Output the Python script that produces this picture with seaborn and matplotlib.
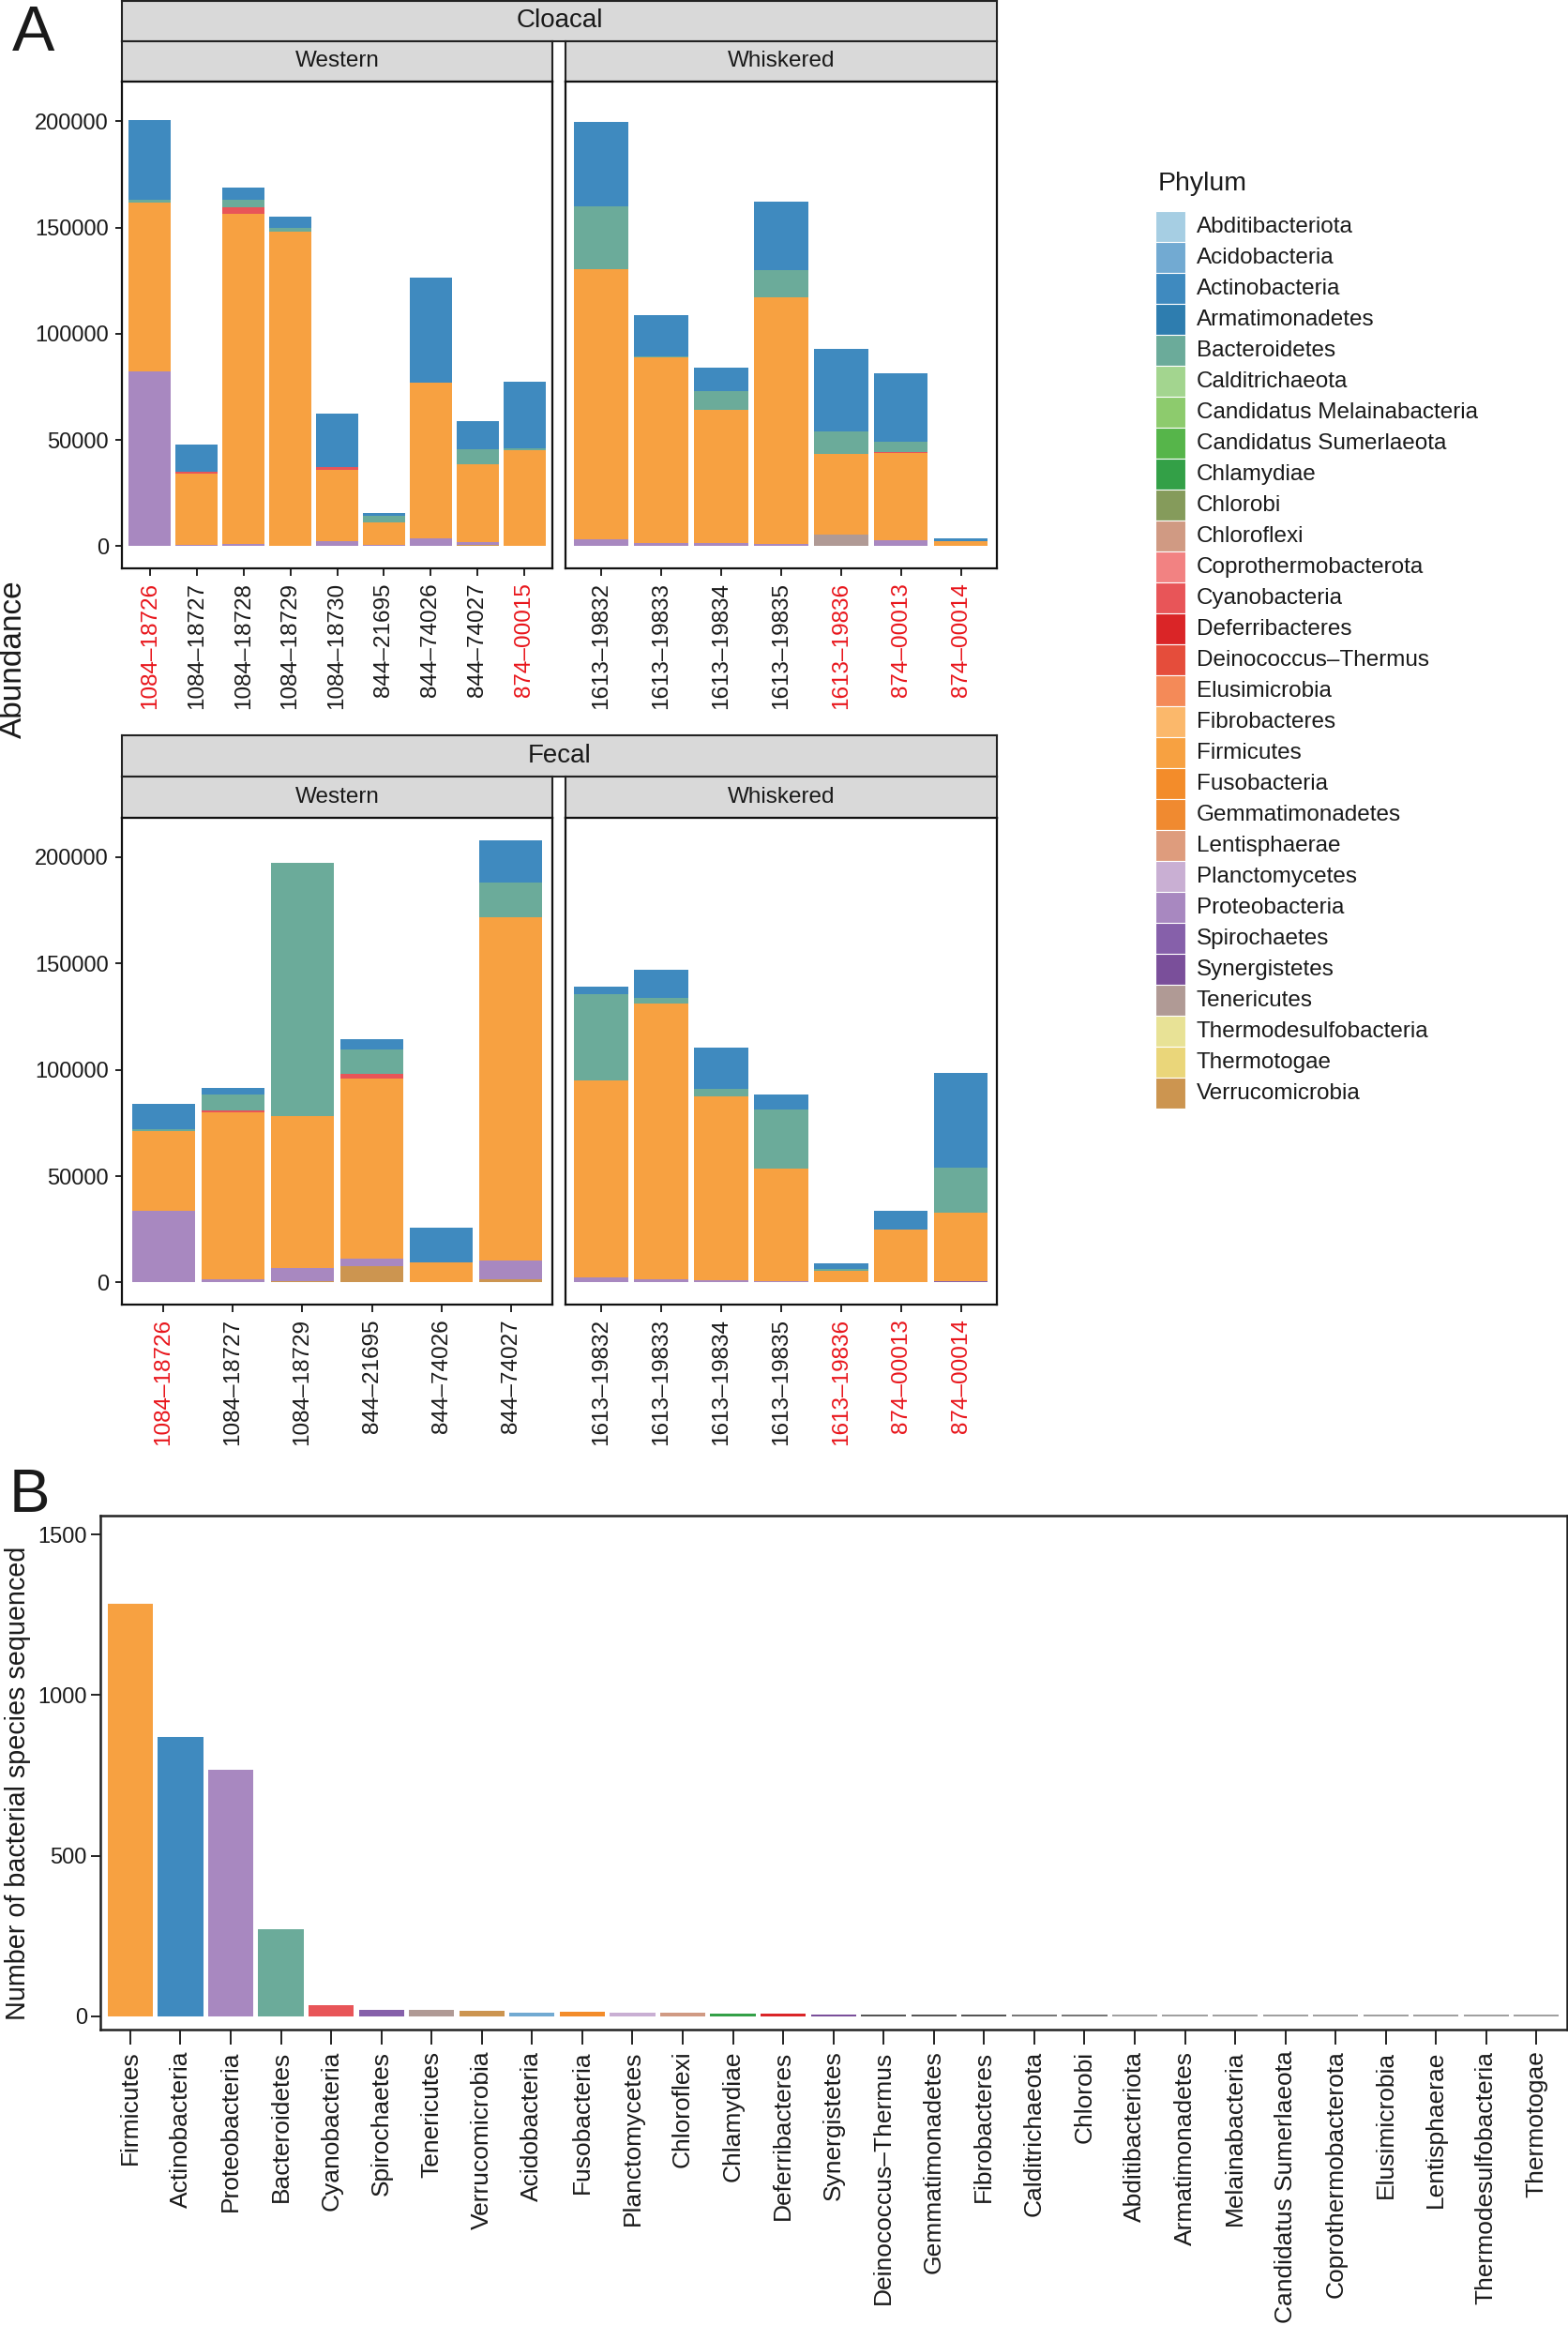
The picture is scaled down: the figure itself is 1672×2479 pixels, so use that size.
import numpy as np
import pandas as pd
import matplotlib
matplotlib.use("Agg")
import matplotlib.pyplot as plt
from matplotlib.patches import Rectangle
import seaborn as sns

# ---------------- data ----------------
phylum_levels = ["Abditibacteriota", "Acidobacteria", "Actinobacteria", "Armatimonadetes",
                 "Bacteroidetes", "Calditrichaeota", "Candidatus Melainabacteria",
                 "Candidatus Sumerlaeota", "Chlamydiae", "Chlorobi", "Chloroflexi",
                 "Coprothermobacterota", "Cyanobacteria", "Deferribacteres",
                 "Deinococcus–Thermus", "Elusimicrobia", "Fibrobacteres", "Firmicutes",
                 "Fusobacteria", "Gemmatimonadetes", "Lentisphaerae", "Planctomycetes",
                 "Proteobacteria", "Spirochaetes", "Synergistetes", "Tenericutes",
                 "Thermodesulfobacteria", "Thermotogae", "Verrucomicrobia"]
phylum_colors = ["#A6CEE3", "#72AAD2", "#3F8ABF", "#2E7DAF", "#6BAB9A", "#A3D58F", "#8DCB6D",
                 "#56B54A", "#33A047", "#859B5B", "#D09A83", "#F28282", "#E85558", "#DA2527",
                 "#E54D3B", "#F48A58", "#FBB86B", "#F7A141", "#F38C2A", "#F08A30", "#DE9C7D",
                 "#C9AFD3", "#A888C0", "#8660AA", "#7A4F9A", "#B09A95", "#E8E296", "#EAD67A",
                 "#CC9550"]

# Cloacal / Western
cw_samples = ["1084–18726", "1084–18727", "1084–18728", "1084–18729", "1084–18730",
              "844–21695", "844–74026", "844–74027", "874–00015"]
cw_verrucomicrobia = [0, 0, 0, 0, 0, 0, 0, 500, 0]
cw_proteobacteria = [82100, 600, 1000, 300, 2300, 500, 3600, 1600, 300]
cw_firmicutes = [79700, 33400, 155500, 147900, 33500, 10600, 73400, 36500, 45100]
cw_cyanobacteria = [0, 1200, 2800, 0, 1500, 0, 0, 0, 0]
cw_bacteroidetes = [1300, 0, 3800, 1700, 0, 3200, 0, 7000, 500]
cw_actinobacteria = [37300, 12800, 5500, 5300, 25200, 1300, 49200, 13200, 31500]
cw_red = ["1084–18726", "874–00015"]

# Cloacal / Whiskered
ch_samples = ["1613–19832", "1613–19833", "1613–19834", "1613–19835", "1613–19836",
              "874–00013", "874–00014"]
ch_tenericutes = [0, 0, 0, 0, 5300, 0, 0]
ch_proteobacteria = [3200, 1500, 1300, 1000, 0, 3000, 300]
ch_firmicutes = [127100, 87200, 62900, 116000, 38000, 40900, 1900]
ch_cyanobacteria = [0, 0, 0, 0, 0, 500, 0]
ch_bacteroidetes = [29600, 800, 8900, 13100, 10600, 4600, 0]
ch_actinobacteria = [39700, 19400, 11100, 31900, 38800, 32200, 1400]
ch_red = ["1613–19836", "874–00013", "874–00014"]

# Fecal / Western
fw_samples = ["1084–18726", "1084–18727", "1084–18729", "844–21695", "844–74026", "844–74027"]
fw_verrucomicrobia = [0, 0, 500, 7700, 0, 1300]
fw_proteobacteria = [33550, 1300, 6300, 3500, 400, 9000]
fw_firmicutes = [37750, 78700, 71500, 84600, 9200, 161600]
fw_cyanobacteria = [0, 900, 0, 2400, 0, 0]
fw_bacteroidetes = [600, 7700, 119100, 11200, 0, 16300]
fw_actinobacteria = [11900, 2800, 0, 5100, 16100, 19900]
fw_red = ["1084–18726"]

# Fecal / Whiskered
fh_samples = ["1613–19832", "1613–19833", "1613–19834", "1613–19835", "1613–19836",
              "874–00013", "874–00014"]
fh_spirochaetes = [0, 0, 0, 0, 0, 0, 800]
fh_proteobacteria = [2200, 1500, 900, 700, 300, 300, 0]
fh_firmicutes = [93000, 129600, 86600, 52800, 5000, 24700, 31900]
fh_bacteroidetes = [40300, 2700, 3700, 27900, 1100, 0, 21200]
fh_actinobacteria = [3800, 13400, 19100, 7000, 2800, 8500, 44800]
fh_red = ["1613–19836", "874–00013", "874–00014"]

# Panel B
b_phyla = ["Firmicutes", "Actinobacteria", "Proteobacteria", "Bacteroidetes", "Cyanobacteria",
           "Spirochaetes", "Tenericutes", "Verrucomicrobia", "Acidobacteria", "Fusobacteria",
           "Planctomycetes", "Chloroflexi", "Chlamydiae", "Deferribacteres", "Synergistetes",
           "Deinococcus–Thermus", "Gemmatimonadetes", "Fibrobacteres", "Calditrichaeota",
           "Chlorobi", "Abditibacteriota", "Armatimonadetes", "Melainabacteria",
           "Candidatus Sumerlaeota", "Coprothermobacterota", "Elusimicrobia", "Lentisphaerae",
           "Thermodesulfobacteria", "Thermotogae"]
b_counts = [1284, 871, 768, 271, 34, 21, 20, 16, 12, 13, 12, 10, 8, 8, 7,
            7, 7, 7, 6, 6, 5, 5, 5, 5, 5, 5, 5, 5, 5]
b_colors = ["#F7A141", "#3F8ABF", "#A888C0", "#6BAB9A", "#E85558", "#8660AA", "#B09A95",
            "#CC9550", "#72AAD2", "#F38C2A", "#C9AFD3", "#D09A83", "#33A047", "#DA2527",
            "#7A4F9A", "#555555", "#555555", "#555555", "#777777", "#777777", "#A0A0A0",
            "#A0A0A0", "#A0A0A0", "#A0A0A0", "#A0A0A0", "#A0A0A0", "#A0A0A0", "#A0A0A0",
            "#A0A0A0"]

# ---------------- style ----------------
sns.set_style("white")
plt.rcParams["font.family"] = ["Liberation Sans", "DejaVu Sans"]
plt.rcParams["axes.unicode_minus"] = False

W, H = 1672, 2479
fig = plt.figure(figsize=(W / 100, H / 100), dpi=100)
pal = dict(zip(phylum_levels, phylum_colors))
RED = "#E8151B"
TXT = "#1A1A1A"


def rect(l, t, r, b):
    return [l / W, 1 - b / H, (r - l) / W, (b - t) / H]


def strip(l, t, r, b, text, fs):
    ax = fig.add_axes(rect(l, t, r, b))
    ax.set_facecolor("#D9D9D9")
    ax.set_xticks([])
    ax.set_yticks([])
    for s in ax.spines.values():
        s.set_visible(True)
        s.set_color("#222222")
        s.set_linewidth(1.5)
    ax.text(0.5, 0.5, text, ha="center", va="center", fontsize=fs, color=TXT,
            transform=ax.transAxes)


all_max = 0
panels = [
    (cw_samples, {"Verrucomicrobia": cw_verrucomicrobia, "Proteobacteria": cw_proteobacteria,
                  "Firmicutes": cw_firmicutes, "Cyanobacteria": cw_cyanobacteria,
                  "Bacteroidetes": cw_bacteroidetes, "Actinobacteria": cw_actinobacteria}, cw_red),
    (ch_samples, {"Tenericutes": ch_tenericutes, "Proteobacteria": ch_proteobacteria,
                  "Firmicutes": ch_firmicutes, "Cyanobacteria": ch_cyanobacteria,
                  "Bacteroidetes": ch_bacteroidetes, "Actinobacteria": ch_actinobacteria}, ch_red),
    (fw_samples, {"Verrucomicrobia": fw_verrucomicrobia, "Proteobacteria": fw_proteobacteria,
                  "Firmicutes": fw_firmicutes, "Cyanobacteria": fw_cyanobacteria,
                  "Bacteroidetes": fw_bacteroidetes, "Actinobacteria": fw_actinobacteria}, fw_red),
    (fh_samples, {"Spirochaetes": fh_spirochaetes, "Proteobacteria": fh_proteobacteria,
                  "Firmicutes": fh_firmicutes, "Bacteroidetes": fh_bacteroidetes,
                  "Actinobacteria": fh_actinobacteria}, fh_red),
]
for samples, layers, _ in panels:
    tot = np.sum([np.array(v) for v in layers.values()], axis=0)
    all_max = max(all_max, tot.max())

# bottom-to-top stacking = reverse of legend order (ggplot position_stack)
stack_order = [p for p in reversed(phylum_levels)]

rows = [(1, 43.6, 87.3, 606, "Cloacal"), (784, 828, 872, 1391, "Fecal")]
cols = [(130, 589, "Western"), (602.7, 1063, "Whiskered")]

k = 0
for (st, sm, pt, pb, rname) in rows:
    strip(130, st, 1063, sm, rname, 20)
    for ci, (cl, cr, cname) in enumerate(cols):
        samples, layers, reds = panels[k]
        k += 1
        strip(cl, sm, cr, pt, cname, 17.5)
        ax = fig.add_axes(rect(cl, pt, cr, pb))
        long = pd.DataFrame([(s, ph, v) for ph, vals in layers.items()
                             for s, v in zip(samples, vals)],
                            columns=["sample", "phylum", "value"])
        wide = long.pivot(index="sample", columns="phylum", values="value").reindex(samples)
        present = [p for p in stack_order if p in wide.columns]
        cum = wide[present].cumsum(axis=1)
        for ph in reversed(present):
            d = pd.DataFrame({"sample": samples, "value": cum[ph].values})
            sns.barplot(data=d, x="sample", y="value", order=samples, color=pal[ph],
                        saturation=1, width=0.9, errorbar=None, linewidth=0, ax=ax)
        n = len(samples)
        ax.set_xlim(-0.6, n - 0.4)
        ax.set_ylim(-0.05 * all_max, 1.05 * all_max)
        ax.set_xlabel("")
        ax.set_ylabel("")
        ax.set_xticks(range(n))
        ax.set_xticklabels(samples, rotation=90, fontsize=17.5)
        for lab in ax.get_xticklabels():
            lab.set_color(RED if lab.get_text() in reds else TXT)
        ax.set_yticks([0, 50000, 100000, 150000, 200000])
        if ci == 0:
            ax.set_yticklabels(["0", "50000", "100000", "150000", "200000"], fontsize=17,
                               color=TXT)
            ax.tick_params(axis="y", left=True, length=5, width=1.4, pad=5, color="#222222")
        else:
            ax.tick_params(axis="y", left=False, labelleft=False)
        ax.tick_params(axis="x", bottom=True, length=6, width=1.4, pad=5, color="#222222")
        for s in ax.spines.values():
            s.set_visible(True)
            s.set_color("#111111")
            s.set_linewidth(1.6)

fig.text(13 / W, 1 - 54 / H, "A", fontsize=49, color=TXT, va="baseline", ha="left")
fig.text(14 / W, 1 - 703 / H, "Abundance", rotation=90, fontsize=24, color=TXT,
         ha="center", va="center")

# legend
lax = fig.add_axes([0, 0, 1, 1], facecolor="none")
lax.set_xlim(0, W)
lax.set_ylim(H, 0)
lax.axis("off")
lax.text(1235, 196, "Phylum", fontsize=20.5, color=TXT, va="center", ha="left")
for i, ph in enumerate(phylum_levels):
    y0 = 225.4 + 33.0 * i
    lax.add_patch(Rectangle((1231.7, y0), 32, 33, facecolor=pal[ph], edgecolor="white",
                            linewidth=0.8))
    lax.text(1275.7, y0 + 17, ph, fontsize=17.5, color=TXT, va="center", ha="left")

# ---------------- panel B ----------------
bax = fig.add_axes(rect(106.8, 1615.6, 1670.5, 2163.6))
bdf = pd.DataFrame({"phylum": b_phyla, "count": b_counts})
sns.barplot(data=bdf, x="phylum", y="count", hue="phylum", order=b_phyla,
            palette=dict(zip(b_phyla, b_colors)), legend=False, saturation=1, width=0.9,
            linewidth=0, ax=bax)
bax.set_xlim(-0.6, len(b_phyla) - 0.4)
bax.set_ylim(-40, 1560)
bax.set_yticks([0, 500, 1000, 1500])
bax.set_yticklabels(["0", "500", "1000", "1500"], fontsize=17, color=TXT)
bax.set_xticks(range(len(b_phyla)))
bax.set_xticklabels(b_phyla, rotation=90, fontsize=19, color=TXT)
bax.set_xlabel("")
bax.set_ylabel("")
bax.tick_params(axis="x", bottom=True, length=11.5, width=1.4, pad=5, color="#222222")
bax.tick_params(axis="y", left=True, length=7, width=1.4, pad=3, color="#222222")
for s in bax.spines.values():
    s.set_visible(True)
    s.set_color("#222222")
    s.set_linewidth(1.8)

fig.text(10 / W, 1 - 1612 / H, "B", fontsize=47, color=TXT, va="baseline", ha="left")
fig.text(19 / W, 1 - 1901 / H, "Number of bacterial species sequenced", rotation=90,
         fontsize=20.7, color=TXT, ha="center", va="center")

fig.savefig("out.png", dpi=100)
